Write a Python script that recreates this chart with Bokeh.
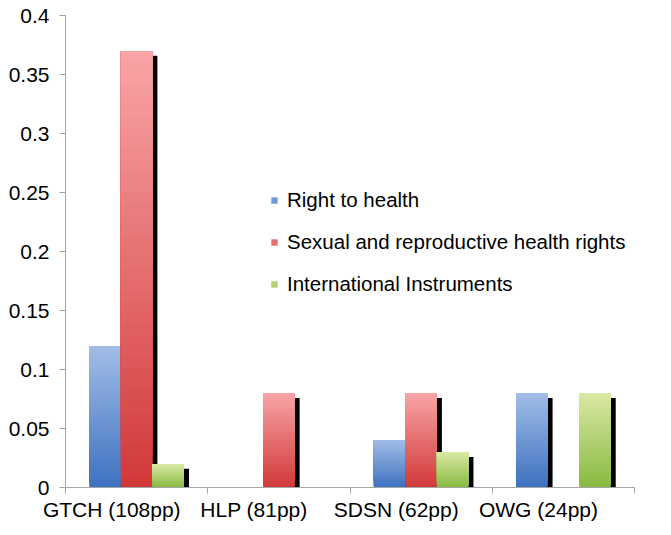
from bokeh.plotting import figure
from bokeh.models import Range1d, FixedTicker, CustomJSTickFormatter, Legend, LegendItem
from bokeh.embed import file_html
from bokeh.resources import INLINE

# ---- data ----
categories = ["GTCH (108pp)", "HLP (81pp)", "SDSN (62pp)", "OWG (24pp)"]
series_names = ["Right to health", "Sexual and reproductive health rights", "International Instruments"]
right_to_health = [0.12, 0.0, 0.04, 0.08]
sexual_repro_rights = [0.37, 0.08, 0.08, 0.0]
international_instruments = [0.02, 0.0, 0.03, 0.08]
y_ticks = [0, 0.05, 0.1, 0.15, 0.2, 0.25, 0.3, 0.35, 0.4]

# ---- style ----
top_colors = ["#A0BCE6", "#F8A3A5", "#D9E8A3"]
bottom_colors = ["#3F72C0", "#D23A3A", "#89BA42"]
FONT = "Liberation Sans"
FS = "21px"
AXIS_GRAY = "#A6A6A6"

W, H = 655, 527
p = figure(width=W, height=H, output_backend="svg", toolbar_location=None,
           x_range=Range1d(0, 4), y_range=Range1d(0, 0.4),
           min_border_left=65, min_border_right=21, min_border_top=15, min_border_bottom=40)
p.xgrid.visible = False
p.ygrid.visible = False
p.outline_line_color = None

bw = 0.222          # bar width in category units
dx = 0.035          # shadow x offset (category units)
dy = 0.0042         # shadow y offset (data units)
dy_bottom = 0.0017
N = 40
label_shift = 0.175  # category labels sit left of the group centres


def hex2rgb(h):
    h = h.lstrip("#")
    return tuple(int(h[i:i + 2], 16) for i in (0, 2, 4))


def mix(c1, c2, t):
    a, b = hex2rgb(c1), hex2rgb(c2)
    return "#%02x%02x%02x" % tuple(round(a[i] + (b[i] - a[i]) * t) for i in range(3))


all_series = [right_to_health, sexual_repro_rights, international_instruments]

# shadows first
sl, sr, st, sb = [], [], [], []
for s, vals in enumerate(all_series):
    for i, v in enumerate(vals):
        if v <= 0:
            continue
        c = i + 0.5 + (s - 1) * bw
        sl.append(c - bw / 2 + dx)
        sr.append(c + bw / 2 + dx)
        st.append(v - dy)
        sb.append(-dy_bottom)
p.quad(left=sl, right=sr, top=st, bottom=sb, fill_color="#000000", line_color=None)

# gradient bars
bar_renderers = []
for s, vals in enumerate(all_series):
    L, R, T, B, C = [], [], [], [], []
    for i, v in enumerate(vals):
        if v <= 0:
            continue
        c = i + 0.5 + (s - 1) * bw
        for k in range(N):
            L.append(c - bw / 2)
            R.append(c + bw / 2)
            B.append(v * k / N)
            T.append(v)
            C.append(mix(bottom_colors[s], top_colors[s], k / (N - 1)))
    bar_renderers.append(p.quad(left=L, right=R, top=T, bottom=B, fill_color=C, line_color=None))

# legend (glyph colour taken from a mid-gradient strip)
items = [LegendItem(label=name, renderers=[bar_renderers[s]], index=N // 2)
         for s, name in enumerate(series_names)]
legend = Legend(items=items, location=(205, 191), orientation="vertical",
                glyph_width=8, glyph_height=8, label_standoff=9, spacing=18,
                label_height=24, padding=0, margin=0,
                label_text_font=FONT, label_text_font_size="20.5px", label_text_color="#000000",
                border_line_color=None, background_fill_alpha=0)
p.add_layout(legend, "center")

# y axis
ya = p.yaxis[0]
ya.ticker = FixedTicker(ticks=y_ticks, minor_ticks=[])
ya.formatter = CustomJSTickFormatter(code="return tick.toFixed(2).replace(/0+$/,'').replace(/\\.$/,'');")
ya.axis_line_color = AXIS_GRAY
ya.major_tick_line_color = AXIS_GRAY
ya.major_tick_out = 6
ya.major_tick_in = 0
ya.minor_tick_line_color = None
ya.major_label_standoff = 10
ya.major_label_text_font = FONT
ya.major_label_text_font_size = FS
ya.major_label_text_color = "#000000"

# x axis
xa = p.xaxis[0]
xa.ticker = FixedTicker(ticks=[i + 0.5 - label_shift for i in range(len(categories))],
                        minor_ticks=list(range(len(categories) + 1)))
xa.formatter = CustomJSTickFormatter(args=dict(labels=categories),
                                     code="return labels[Math.floor(tick)];")
xa.axis_line_color = AXIS_GRAY
xa.major_tick_line_color = None
xa.major_tick_out = 0
xa.major_tick_in = 0
xa.minor_tick_line_color = AXIS_GRAY
xa.minor_tick_out = 6
xa.minor_tick_in = 0
xa.major_label_standoff = 4
xa.major_label_text_font = FONT
xa.major_label_text_font_size = FS
xa.major_label_text_color = "#000000"

open("out.html", "w").write(file_html(p, INLINE))
